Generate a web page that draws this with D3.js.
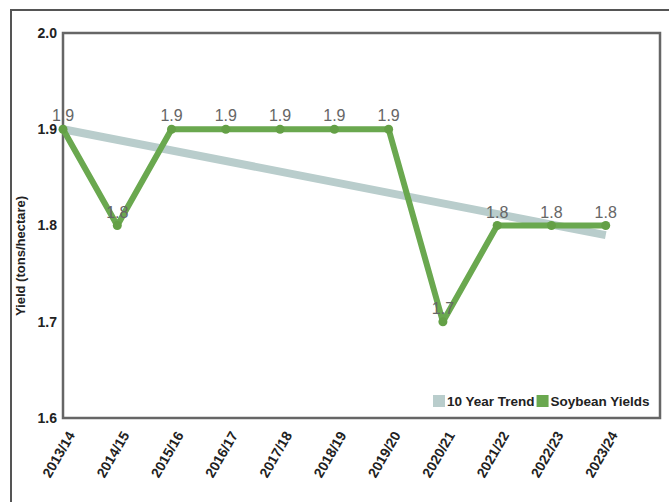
<!DOCTYPE html>
<html>
<head>
<meta charset="utf-8">
<script src="https://cdn.jsdelivr.net/npm/d3@7"></script>
<style>
  body { margin: 0; background: #fff; }
  svg { display: block; font-family: Arial, "Liberation Sans", sans-serif; }
  .axis text { font-weight: bold; font-size: 14px; fill: #222; }
  .label { font-size: 16px; fill: #666; }
</style>
</head>
<body>
<svg width="669" height="502"></svg>
<script>
// seasons on the x axis
var seasons = ['2013/14', '2014/15', '2015/16', '2016/17', '2017/18', '2018/19',
    '2019/20', '2020/21', '2021/22', '2022/23', '2023/24'];
// soybean yields (tons/hectare)
var yields = [1.9, 1.8, 1.9, 1.9, 1.9, 1.9, 1.9, 1.7, 1.8, 1.8, 1.8];
// 10 year trend, start and end
var trendSeasons = ['2013/14', '2023/24'];
var trendValues = [1.9, 1.79];
// y ticks
var yTicks = [1.6, 1.7, 1.8, 1.9, 2.0];

var svg = d3.select('svg');

var plotLeft = 63, plotRight = 660, plotTop = 33, plotBottom = 418;

//x scale, one extra slot at the right
var xScale = d3.scaleLinear()
    .domain([0, seasons.length])
    .range([plotLeft, plotRight]);
var xOf = s => xScale(seasons.indexOf(s));

var yScale = d3.scaleLinear()
    .domain([1.6, 2.0])
    .range([plotBottom, plotTop]);

//outer frame
svg.append('path')
    .attr('d', 'M11,502 L11,10 L669,10')
    .attr('fill', 'none')
    .attr('stroke', '#555')
    .attr('stroke-width', 2);

//plot box
svg.append('rect')
    .attr('x', plotLeft)
    .attr('y', plotTop)
    .attr('width', plotRight - plotLeft)
    .attr('height', plotBottom - plotTop)
    .attr('fill', 'none')
    .attr('stroke', '#666')
    .attr('stroke-width', 2.5);

//y axis
var yAxis = d3.axisLeft(yScale)
    .tickValues(yTicks)
    .tickFormat(d3.format('.1f'))
    .tickSize(0)
    .tickPadding(6);
var gy = svg.append('g')
    .attr('class', 'y axis')
    .attr('transform', 'translate(' + plotLeft + ',0)')
    .call(yAxis);
gy.select('.domain').remove();

//x axis
var xAxis = d3.axisBottom(xScale)
    .tickValues(d3.range(seasons.length))
    .tickFormat(i => seasons[i])
    .tickSize(0);
var gx = svg.append('g')
    .attr('class', 'x axis')
    .attr('transform', 'translate(0,' + plotBottom + ')')
    .call(xAxis);
gx.select('.domain').remove();
gx.selectAll('text')
    .attr('text-anchor', 'end')
    .attr('dy', null)
    .attr('y', 0)
    .attr('transform', 'translate(12,17) rotate(-60)');

//y label
svg.append('text')
    .attr('transform', 'translate(25,256) rotate(-90)')
    .attr('text-anchor', 'middle')
    .style('font-weight', 'bold')
    .style('font-size', '13px')
    .style('fill', '#222')
    .text('Yield (tons/hectare)');

//trend line
var trend = trendSeasons.map((s, i) => ({ season: s, value: trendValues[i] }));
svg.append('path')
    .datum(trend)
    .attr('fill', 'none')
    .attr('stroke', '#b9cdcc')
    .attr('stroke-width', 8)
    .attr('d', d3.line().x(d => xOf(d.season)).y(d => yScale(d.value)));

//yield line
var data = seasons.map((s, i) => ({ season: s, value: yields[i] }));
svg.append('path')
    .datum(data)
    .attr('fill', 'none')
    .attr('stroke', '#6aa84f')
    .attr('stroke-width', 6)
    .attr('stroke-linejoin', 'round')
    .attr('d', d3.line().x(d => xOf(d.season)).y(d => yScale(d.value)));

svg.selectAll('.point')
    .data(data)
    .enter()
    .append('circle')
    .attr('class', 'point')
    .attr('cx', d => xOf(d.season))
    .attr('cy', d => yScale(d.value))
    .attr('r', 4.5)
    .attr('fill', '#64a046');

svg.selectAll('.label')
    .data(data)
    .enter()
    .append('text')
    .attr('class', 'label')
    .attr('x', d => xOf(d.season))
    .attr('y', d => yScale(d.value) - 8)
    .attr('text-anchor', 'middle')
    .text(d => d.value.toFixed(1));

//legend
var legendItems = [
    { name: '10 Year Trend', color: '#b9cdcc' },
    { name: 'Soybean Yields', color: '#6aa84f' }
];
var legend = svg.append('g')
    .attr('transform', 'translate(433,395)');
var lx = 0;
legendItems.forEach(function (item) {
    legend.append('rect')
        .attr('x', lx)
        .attr('y', 0)
        .attr('width', 12)
        .attr('height', 12)
        .attr('fill', item.color);
    var t = legend.append('text')
        .attr('x', lx + 14)
        .attr('y', 11)
        .style('font-weight', 'bold')
        .style('font-size', '13.5px')
        .style('fill', '#222')
        .text(item.name);
    lx += 14 + t.node().getComputedTextLength() + 2;
});
</script>
</body>
</html>
